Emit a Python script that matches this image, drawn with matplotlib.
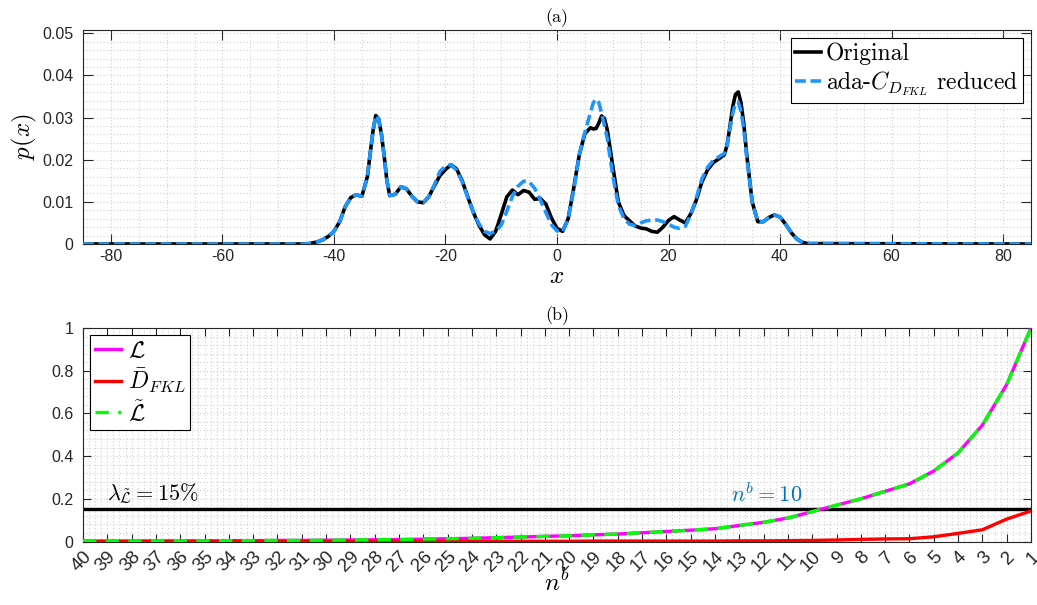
import matplotlib
matplotlib.use("Agg")
import matplotlib.pyplot as plt
from matplotlib.ticker import MultipleLocator
import numpy as np

plt.rcParams['mathtext.fontset'] = 'cm'
plt.rcParams['font.family'] = ['Liberation Sans', 'DejaVu Sans']
plt.rcParams['axes.unicode_minus'] = False

# ---------------- data: panel (a) ----------------
x_pts = [-85, -45, -44, -43, -42, -41, -40, -39, -38, -37, -36, -35, -34, -33.5, -33, -32.5,
         -32, -31.5, -31, -30.5, -30, -29, -28, -27, -26, -25, -24, -23, -22, -21, -20, -19,
         -18, -17, -16, -15, -14, -13, -12, -11, -10, -9, -8, -7, -6, -5, -4, -3, -2, -1,
         0, 1, 2, 3, 4, 5, 6, 6.5, 7, 7.5, 8, 8.5, 9, 10, 11, 12, 13, 14, 15, 16, 17, 18,
         19, 20, 21, 22, 23, 24, 25, 26, 27, 28, 29, 30, 30.5, 31, 31.5, 32, 32.5, 33, 33.5,
         34, 35, 36, 37, 38, 39, 40, 41, 42, 43, 44, 45, 85]
p_original = [0, 0, 0.0002, 0.0005, 0.0010, 0.0018, 0.0030, 0.0052, 0.0088, 0.0110, 0.0117, 0.0113,
              0.0160, 0.0215, 0.0268, 0.0305, 0.0298, 0.0262, 0.0210, 0.0150, 0.0115, 0.0118,
              0.0136, 0.0131, 0.0113, 0.0100, 0.0098, 0.0112, 0.0138, 0.0162, 0.0177, 0.0188,
              0.0178, 0.0150, 0.0112, 0.0075, 0.0045, 0.0022, 0.0012, 0.0030, 0.0070, 0.0112,
              0.0128, 0.0117, 0.0127, 0.0123, 0.0106, 0.0108, 0.0095, 0.0062, 0.0037, 0.0030,
              0.0060, 0.0133, 0.0212, 0.0262, 0.0276, 0.0273, 0.0274, 0.0287, 0.0304, 0.0298,
              0.0272, 0.0185, 0.0100, 0.0068, 0.0055, 0.0043, 0.0038, 0.0036, 0.0030, 0.0028,
              0.0040, 0.0056, 0.0065, 0.0057, 0.0050, 0.0072, 0.0105, 0.0148, 0.0176, 0.0193,
              0.0202, 0.0212, 0.0235, 0.0278, 0.0325, 0.0355, 0.0361, 0.0335, 0.0285, 0.0215,
              0.0100, 0.0053, 0.0053, 0.0063, 0.0069, 0.0064, 0.0047, 0.0027, 0.0012, 0.0004,
              0.0001, 0]
p_reduced = [0, 0, 0.0002, 0.0005, 0.0010, 0.0018, 0.0030, 0.0052, 0.0088, 0.0110, 0.0117, 0.0113,
             0.0160, 0.0215, 0.0268, 0.0305, 0.0298, 0.0262, 0.0210, 0.0150, 0.0115, 0.0118,
             0.0136, 0.0131, 0.0113, 0.0100, 0.0098, 0.0112, 0.0140, 0.0172, 0.0185, 0.0188,
             0.0175, 0.0148, 0.0110, 0.0075, 0.0048, 0.0030, 0.0025, 0.0030, 0.0045, 0.0078,
             0.0113, 0.0137, 0.0149, 0.0148, 0.0132, 0.0105, 0.0075, 0.0046, 0.0031, 0.0029,
             0.0060, 0.0128, 0.0212, 0.0265, 0.0312, 0.0335, 0.0344, 0.0336, 0.0310, 0.0282,
             0.0252, 0.0162, 0.0092, 0.0060, 0.0047, 0.0044, 0.0050, 0.0055, 0.0057, 0.0057,
             0.0053, 0.0047, 0.0040, 0.0037, 0.0042, 0.0070, 0.0110, 0.0155, 0.0182, 0.0198,
             0.0207, 0.0215, 0.0235, 0.0273, 0.0310, 0.0333, 0.0337, 0.0315, 0.0272, 0.0210,
             0.0100, 0.0053, 0.0053, 0.0063, 0.0069, 0.0064, 0.0047, 0.0027, 0.0012, 0.0004,
             0.0001, 0]

# ---------------- data: panel (b) ----------------
nb_labels = [str(n) for n in range(40, 0, -1)]
L_vals = [0.002, 0.002, 0.002, 0.003, 0.003, 0.003, 0.004, 0.004, 0.005, 0.005,
          0.006, 0.007, 0.008, 0.009, 0.011, 0.013, 0.015, 0.018, 0.021, 0.024,
          0.027, 0.031, 0.035, 0.041, 0.047, 0.053, 0.060, 0.075, 0.090, 0.110,
          0.140, 0.170, 0.200, 0.235, 0.270, 0.330, 0.415, 0.545, 0.735, 1.000]
D_vals = [0.0005, 0.0005, 0.0005, 0.0005, 0.0005, 0.0005, 0.0005, 0.0005, 0.0005, 0.0005,
          0.0005, 0.001, 0.001, 0.001, 0.001, 0.001, 0.001, 0.001, 0.001, 0.001,
          0.001, 0.002, 0.002, 0.002, 0.002, 0.002, 0.002, 0.003, 0.003, 0.004,
          0.005, 0.007, 0.010, 0.012, 0.013, 0.022, 0.038, 0.055, 0.105, 0.143]
Lt_vals = list(L_vals)
threshold = 0.15

# ---------------- figure ----------------
fig = plt.figure(figsize=(10.37, 6.05), dpi=100)
axL, axW = 83 / 1037, (1031 - 83) / 1037
ax1 = fig.add_axes([axL, 1 - 244 / 605, axW, (244 - 30) / 605])
ax2 = fig.add_axes([axL, 1 - 541.5 / 605, axW, (541.5 - 328) / 605])

dark = '#262626'
grid_kw = dict(color='#cfcfcf', linestyle=(0, (1, 2)), linewidth=0.8)
serif = 'cmr10'

# panel (a)
ax1.plot(x_pts, p_original, color='black', lw=2.6, label='Original', zorder=3,
         solid_joinstyle='round')
ax1.plot(x_pts, p_reduced, color='#1E96FF', lw=2.6, ls=(0, (3.0, 1.3)),
         label=r'ada-$C_{D_{FKL}}$ reduced', zorder=4)
ax1.set_xlim(-85, 85)
ax1.set_ylim(0, 0.0508)
ax1.xaxis.set_major_locator(MultipleLocator(20))
ax1.xaxis.set_minor_locator(MultipleLocator(5))
ax1.yaxis.set_minor_locator(MultipleLocator(0.002))
ax1.set_yticks([0, 0.01, 0.02, 0.03, 0.04, 0.05])
ax1.set_yticklabels(['0', '0.01', '0.02', '0.03', '0.04', '0.05'])
ax1.grid(True, which='both', **grid_kw)
ax1.set_axisbelow(True)
ax1.tick_params(which='major', direction='in', top=True, right=True, length=7,
                labelsize=11.5, colors=dark, width=0.8)
ax1.tick_params(axis='y', pad=7)
ax1.tick_params(which='minor', length=0)
ax1.set_xlabel(r'$x$', fontsize=18, labelpad=0)
ax1.set_ylabel(r'$p(x)$', fontsize=18, labelpad=2)
ax1.set_title('(a)', fontsize=13, family=serif, pad=6)
leg1 = ax1.legend(loc='upper right', prop={'family': serif, 'size': 17}, frameon=True,
                  fancybox=False, edgecolor='black', framealpha=1, handlelength=1.1,
                  handletextpad=0.2, borderpad=0.2, labelspacing=0.15, borderaxespad=0.35)
leg1.get_frame().set_linewidth(0.8)
for s in ax1.spines.values():
    s.set_color(dark)
    s.set_linewidth(0.8)

# panel (b)
pos = np.arange(1, len(nb_labels) + 1)
ax2.plot(pos, L_vals, color='#FF00FF', lw=2.4, label=r'$\mathcal{L}$', zorder=3)
ax2.plot(pos, D_vals, color='#FF0000', lw=2.4, label=r'$\bar{D}_{FKL}$', zorder=3)
ax2.plot(pos, Lt_vals, color='#00FF00', lw=2.4, ls=(0, (4, 2.8)),
         label=r'$\tilde{\mathcal{L}}$', zorder=4)
ax2.axhline(threshold, color='black', lw=2.4, zorder=2)
ax2.text(2.0, 0.165, r'$\lambda_{\tilde{\mathcal{L}}}=15\%$', fontsize=16,
         ha='left', va='bottom')
ax2.text(27.65, 0.163, r'$n^b=10$', fontsize=16, color='#0072BD',
         ha='left', va='bottom')
ax2.set_xlim(1, 40)
ax2.set_ylim(0, 1)
ax2.set_xticks(pos)
ax2.set_xticklabels(nb_labels, rotation=45, ha='right', rotation_mode='anchor')
ax2.xaxis.set_minor_locator(MultipleLocator(0.25))
ax2.yaxis.set_minor_locator(MultipleLocator(0.04))
ax2.set_yticks([0, 0.2, 0.4, 0.6, 0.8, 1.0])
ax2.set_yticklabels(['0', '0.2', '0.4', '0.6', '0.8', '1'])
ax2.grid(True, which='both', **grid_kw)
ax2.set_axisbelow(True)
ax2.tick_params(which='major', direction='in', top=True, right=True, length=6,
                labelsize=11.5, colors=dark, width=0.8)
ax2.tick_params(axis='y', pad=7)
ax2.tick_params(axis='x', labelsize=13.5, pad=5)
ax2.tick_params(which='minor', length=0)
ax2.set_xlabel(r'$n^b$', fontsize=18, labelpad=-5)
ax2.set_title('(b)', fontsize=13, family=serif, pad=6)
leg2 = ax2.legend(loc='upper left', prop={'size': 17}, frameon=True,
                  fancybox=False, edgecolor='black', framealpha=1, handlelength=1.1,
                  handletextpad=0.3, borderpad=0.2, labelspacing=0.2, borderaxespad=0.3)
leg2.get_frame().set_linewidth(0.8)
for s in ax2.spines.values():
    s.set_color(dark)
    s.set_linewidth(0.8)

fig.savefig('out.png', dpi=100)
